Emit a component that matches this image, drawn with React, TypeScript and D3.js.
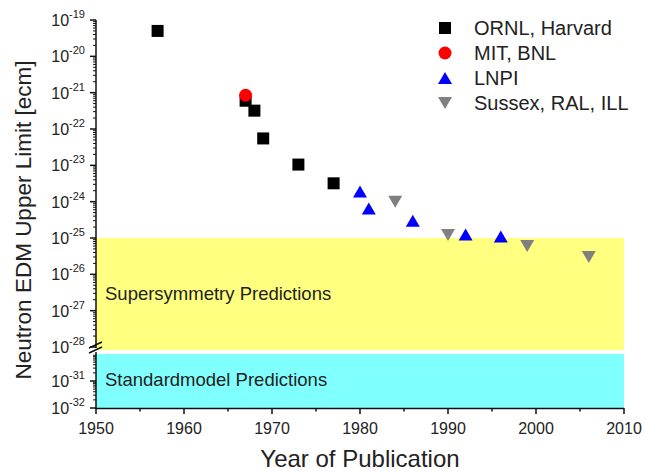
import React from "react";
import * as d3 from "d3";

const W = 646;
const H = 472;

const ornlYears = [1957, 1967, 1968, 1969, 1973, 1977];
const ornlValues = [5e-20, 6e-22, 3.2e-22, 5.5e-23, 1.05e-23, 3.2e-24];
const mitYears = [1967];
const mitValues = [8.5e-22];
const lnpiYears = [1980, 1981, 1986, 1992, 1996];
const lnpiValues = [1.9e-24, 6.5e-25, 3e-25, 1.25e-25, 1.1e-25];
const sussexYears = [1984, 1990, 1999, 2006];
const sussexValues = [1e-24, 1.2e-25, 6e-26, 3e-26];

const xTicks = [1950, 1960, 1970, 1980, 1990, 2000, 2010];
const xMinorTicks = [1955, 1965, 1975, 1985, 1995, 2005];
const upperExps = [-19, -20, -21, -22, -23, -24, -25, -26, -27, -28];
const lowerExps = [-31, -32];

const legendLabels = ["ORNL, Harvard", "MIT, BNL", "LNPI", "Sussex, RAL, ILL"];

const susyRange = [1e-25, 1e-28];
const smRange = [1e-30, 1e-32];

const FONT = "'Liberation Sans', Arial, sans-serif";
const TXT = "#222";

export default function App() {
  const x = d3.scaleLinear().domain([1950, 2010]).range([96, 624]);
  const yU = d3.scaleLog().domain([1e-19, 1e-28]).range([20, 347]);
  const yL = d3.scaleLog().domain([1e-30, 1e-32]).range([354, 408]);
  const axisX = x(1950);

  const upperMinor: number[] = [];
  for (let e = -28; e < -19; e++) for (let k = 2; k <= 9; k++) upperMinor.push(k * Math.pow(10, e));
  const lowerMinor: number[] = [];
  for (let e = -32; e < -30; e++) for (let k = 2; k <= 9; k++) lowerMinor.push(k * Math.pow(10, e));

  const sq = 12;
  const tri = (cx: number, cy: number, up: boolean) => {
    const s = 14;
    const h = 12;
    if (up) return `M${cx - s / 2},${cy + h / 2}L${cx + s / 2},${cy + h / 2}L${cx},${cy - h / 2}Z`;
    return `M${cx - s / 2},${cy - h / 2}L${cx + s / 2},${cy - h / 2}L${cx},${cy + h / 2}Z`;
  };

  const legendY = (i: number) => 28 + i * 25;
  const legendX = 445;

  return (
    <svg width={W} height={H} style={{ position: "absolute", left: 0, top: 0, background: "#fff" }} fontFamily={FONT}>
      {/* bands */}
      <rect x={axisX} y={yU(susyRange[0])} width={x(2010) - axisX} height={yU(susyRange[1]) - yU(susyRange[0]) + 3} fill="#ffff80" />
      <rect x={axisX} y={yL(smRange[0])} width={x(2010) - axisX} height={yL(smRange[1]) - yL(smRange[0])} fill="#80ffff" />
      <text x={105} y={300} fontSize={18.5} fill={TXT}>Supersymmetry Predictions</text>
      <text x={105} y={386} fontSize={18.5} fill={TXT}>Standardmodel Predictions</text>

      {/* x axis */}
      <line x1={axisX} x2={x(2010)} y1={408.5} y2={408.5} stroke="#111" strokeWidth={1.5} />
      {xTicks.map((t) => (
        <g key={t}>
          <line x1={x(t)} x2={x(t)} y1={408} y2={414} stroke="#111" strokeWidth={1.5} />
          <text x={x(t)} y={434} fontSize={16} textAnchor="middle" fill={TXT}>{t}</text>
        </g>
      ))}
      {xMinorTicks.map((t) => (
        <line key={t} x1={x(t)} x2={x(t)} y1={408} y2={411.5} stroke="#111" strokeWidth={1.5} />
      ))}
      <text x={x(1980)} y={467} fontSize={24} textAnchor="middle" fill={TXT}>Year of Publication</text>

      {/* y axis */}
      <line x1={axisX} x2={axisX} y1={yU(1e-19)} y2={348} stroke="#111" strokeWidth={1.5} />
      <line x1={axisX} x2={axisX} y1={352} y2={409} stroke="#111" strokeWidth={1.5} />
      <line x1={89} x2={102} y1={348} y2={342} stroke="#111" strokeWidth={1.5} />
      <line x1={89} x2={102} y1={353} y2={347} stroke="#111" strokeWidth={1.5} />
      {upperExps.map((e) => (
        <g key={e}>
          <line x1={axisX - 6} x2={axisX} y1={yU(Math.pow(10, e))} y2={yU(Math.pow(10, e))} stroke="#111" strokeWidth={1.5} />
          <text x={85} y={yU(Math.pow(10, e)) + 6} fontSize={16} textAnchor="end" fill={TXT}>
            10<tspan fontSize={11} dy={-8}>{e}</tspan>
          </text>
        </g>
      ))}
      {upperMinor.map((v, i) => (
        <line key={i} x1={axisX - 3} x2={axisX} y1={yU(v)} y2={yU(v)} stroke="#111" strokeWidth={1} />
      ))}
      {lowerExps.map((e) => (
        <g key={e}>
          <line x1={axisX - 6} x2={axisX} y1={yL(Math.pow(10, e))} y2={yL(Math.pow(10, e))} stroke="#111" strokeWidth={1.5} />
          <text x={85} y={yL(Math.pow(10, e)) + 6} fontSize={16} textAnchor="end" fill={TXT}>
            10<tspan fontSize={11} dy={-8}>{e}</tspan>
          </text>
        </g>
      ))}
      {lowerMinor.map((v, i) => (
        <line key={i} x1={axisX - 3} x2={axisX} y1={yL(v)} y2={yL(v)} stroke="#111" strokeWidth={1} />
      ))}
      <text transform={`translate(31,220) rotate(-90)`} fontSize={22.5} textAnchor="middle" fill={TXT}>
        Neutron EDM Upper Limit [ecm]
      </text>

      {/* data */}
      {ornlYears.map((yr, i) => (
        <rect key={i} x={x(yr) - sq / 2} y={yU(ornlValues[i]) - sq / 2} width={sq} height={sq} fill="#000" />
      ))}
      {mitYears.map((yr, i) => (
        <circle key={i} cx={x(yr)} cy={yU(mitValues[i])} r={6.5} fill="#ff0000" />
      ))}
      {lnpiYears.map((yr, i) => (
        <path key={i} d={tri(x(yr), yU(lnpiValues[i]), true)} fill="#0000ff" />
      ))}
      {sussexYears.map((yr, i) => (
        <path key={i} d={tri(x(yr), yU(sussexValues[i]), false)} fill="#808080" />
      ))}

      {/* legend */}
      <rect x={legendX - 6} y={legendY(0) - 6} width={12} height={12} fill="#000" />
      <circle cx={legendX} cy={legendY(1)} r={6.5} fill="#ff0000" />
      <path d={tri(legendX, legendY(2), true)} fill="#0000ff" />
      <path d={tri(legendX, legendY(3), false)} fill="#808080" />
      {legendLabels.map((l, i) => (
        <text key={l} x={474} y={legendY(i) + 7} fontSize={20} fill={TXT}>{l}</text>
      ))}
    </svg>
  );
}
